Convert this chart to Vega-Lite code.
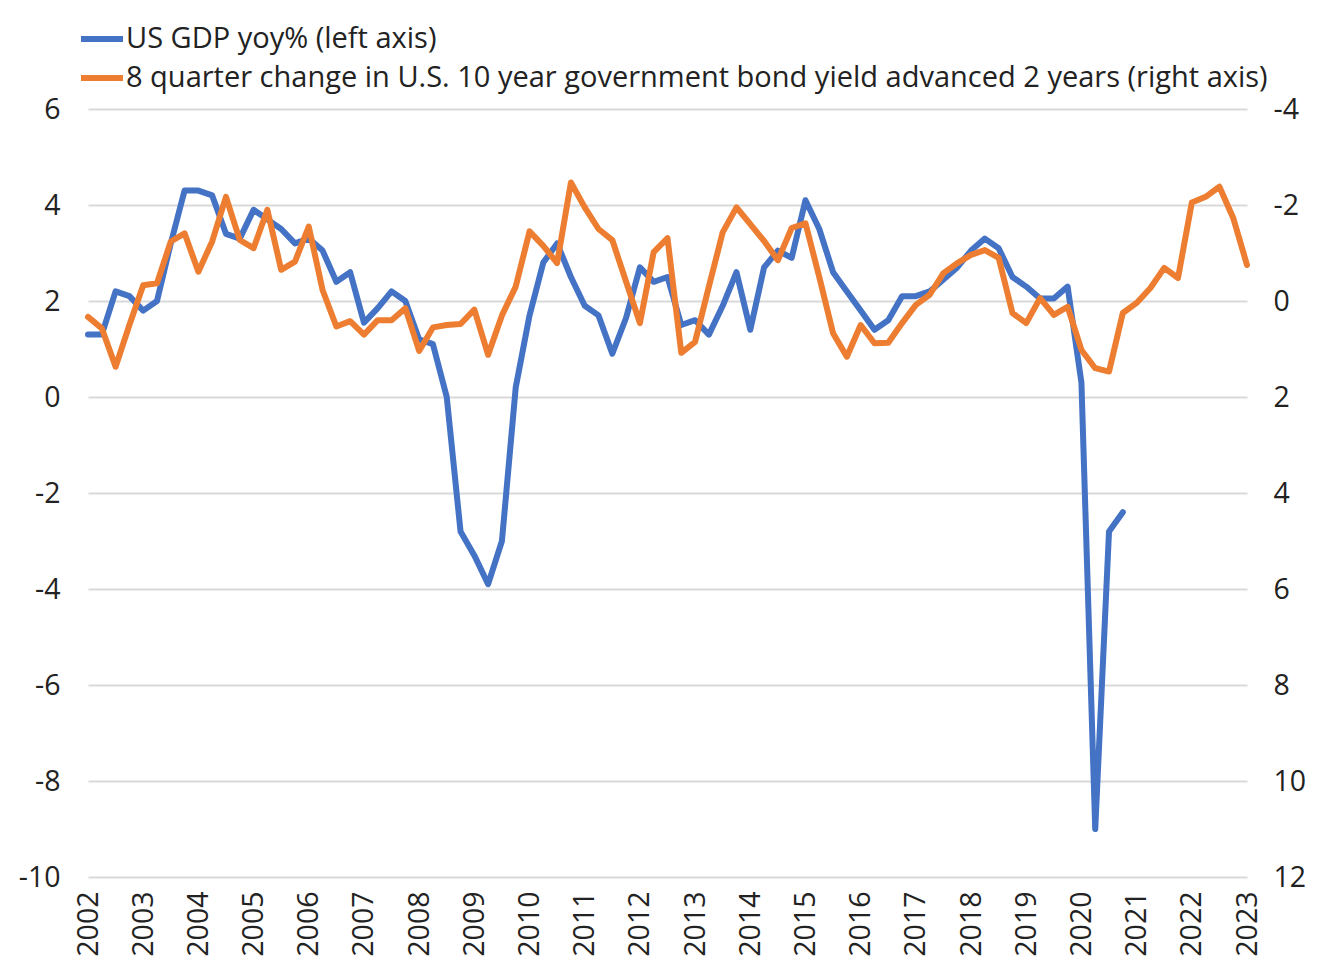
{
  "$schema": "https://vega.github.io/schema/vega-lite/v6.json",
  "width": 1159,
  "height": 768,
  "autosize": {"type": "none"},
  "padding": {"left": 88, "top": 109, "right": 93, "bottom": 101},
  "background": "white",
  "config": {
    "font": "Open Sans",
    "view": {"stroke": null},
    "axis": {"labelFont": "Open Sans", "labelColor": "#222222", "labelFontSize": 28.5, "title": null}
  },
  "datasets": {
    "gdp": [
      {"t": 2002.00, "value": 1.3}, {"t": 2002.25, "value": 1.3}, {"t": 2002.50, "value": 2.2}, {"t": 2002.75, "value": 2.1},
      {"t": 2003.00, "value": 1.8}, {"t": 2003.25, "value": 2.0}, {"t": 2003.50, "value": 3.2}, {"t": 2003.75, "value": 4.3},
      {"t": 2004.00, "value": 4.3}, {"t": 2004.25, "value": 4.2}, {"t": 2004.50, "value": 3.4}, {"t": 2004.75, "value": 3.3},
      {"t": 2005.00, "value": 3.9}, {"t": 2005.25, "value": 3.7}, {"t": 2005.50, "value": 3.5}, {"t": 2005.75, "value": 3.2},
      {"t": 2006.00, "value": 3.3}, {"t": 2006.25, "value": 3.05}, {"t": 2006.50, "value": 2.4}, {"t": 2006.75, "value": 2.6},
      {"t": 2007.00, "value": 1.55}, {"t": 2007.25, "value": 1.85}, {"t": 2007.50, "value": 2.2}, {"t": 2007.75, "value": 2.0},
      {"t": 2008.00, "value": 1.2}, {"t": 2008.25, "value": 1.1}, {"t": 2008.50, "value": 0.0}, {"t": 2008.75, "value": -2.8},
      {"t": 2009.00, "value": -3.3}, {"t": 2009.25, "value": -3.9}, {"t": 2009.50, "value": -3.0}, {"t": 2009.75, "value": 0.2},
      {"t": 2010.00, "value": 1.7}, {"t": 2010.25, "value": 2.8}, {"t": 2010.50, "value": 3.2}, {"t": 2010.75, "value": 2.5},
      {"t": 2011.00, "value": 1.9}, {"t": 2011.25, "value": 1.7}, {"t": 2011.50, "value": 0.9}, {"t": 2011.75, "value": 1.65},
      {"t": 2012.00, "value": 2.7}, {"t": 2012.25, "value": 2.4}, {"t": 2012.50, "value": 2.5}, {"t": 2012.75, "value": 1.5},
      {"t": 2013.00, "value": 1.6}, {"t": 2013.25, "value": 1.3}, {"t": 2013.50, "value": 1.9}, {"t": 2013.75, "value": 2.6},
      {"t": 2014.00, "value": 1.4}, {"t": 2014.25, "value": 2.7}, {"t": 2014.50, "value": 3.05}, {"t": 2014.75, "value": 2.9},
      {"t": 2015.00, "value": 4.1}, {"t": 2015.25, "value": 3.5}, {"t": 2015.50, "value": 2.6}, {"t": 2015.75, "value": 2.2},
      {"t": 2016.00, "value": 1.8}, {"t": 2016.25, "value": 1.4}, {"t": 2016.50, "value": 1.6}, {"t": 2016.75, "value": 2.1},
      {"t": 2017.00, "value": 2.1}, {"t": 2017.25, "value": 2.2}, {"t": 2017.50, "value": 2.45}, {"t": 2017.75, "value": 2.7},
      {"t": 2018.00, "value": 3.05}, {"t": 2018.25, "value": 3.3}, {"t": 2018.50, "value": 3.1}, {"t": 2018.75, "value": 2.5},
      {"t": 2019.00, "value": 2.3}, {"t": 2019.25, "value": 2.05}, {"t": 2019.50, "value": 2.05}, {"t": 2019.75, "value": 2.3},
      {"t": 2020.00, "value": 0.3}, {"t": 2020.25, "value": -9.0}, {"t": 2020.50, "value": -2.8}, {"t": 2020.75, "value": -2.4}
    ],
    "bond": [
      {"t": 2002.00, "value": 0.33}, {"t": 2002.25, "value": 0.57}, {"t": 2002.50, "value": 1.37}, {"t": 2002.75, "value": 0.5},
      {"t": 2003.00, "value": -0.33}, {"t": 2003.25, "value": -0.37}, {"t": 2003.50, "value": -1.24}, {"t": 2003.75, "value": -1.41},
      {"t": 2004.00, "value": -0.61}, {"t": 2004.25, "value": -1.24}, {"t": 2004.50, "value": -2.17}, {"t": 2004.75, "value": -1.27},
      {"t": 2005.00, "value": -1.1}, {"t": 2005.25, "value": -1.9}, {"t": 2005.50, "value": -0.65}, {"t": 2005.75, "value": -0.82},
      {"t": 2006.00, "value": -1.55}, {"t": 2006.25, "value": -0.23}, {"t": 2006.50, "value": 0.53}, {"t": 2006.75, "value": 0.42},
      {"t": 2007.00, "value": 0.7}, {"t": 2007.25, "value": 0.4}, {"t": 2007.50, "value": 0.4}, {"t": 2007.75, "value": 0.15},
      {"t": 2008.00, "value": 1.04}, {"t": 2008.25, "value": 0.55}, {"t": 2008.50, "value": 0.5}, {"t": 2008.75, "value": 0.48},
      {"t": 2009.00, "value": 0.18}, {"t": 2009.25, "value": 1.12}, {"t": 2009.50, "value": 0.3}, {"t": 2009.75, "value": -0.3},
      {"t": 2010.00, "value": -1.45}, {"t": 2010.25, "value": -1.15}, {"t": 2010.50, "value": -0.79}, {"t": 2010.75, "value": -2.47},
      {"t": 2011.00, "value": -1.95}, {"t": 2011.25, "value": -1.5}, {"t": 2011.50, "value": -1.27}, {"t": 2011.75, "value": -0.4},
      {"t": 2012.00, "value": 0.46}, {"t": 2012.25, "value": -1.02}, {"t": 2012.50, "value": -1.31}, {"t": 2012.75, "value": 1.08},
      {"t": 2013.00, "value": 0.85}, {"t": 2013.25, "value": -0.3}, {"t": 2013.50, "value": -1.43}, {"t": 2013.75, "value": -1.95},
      {"t": 2014.00, "value": -1.6}, {"t": 2014.25, "value": -1.25}, {"t": 2014.50, "value": -0.85}, {"t": 2014.75, "value": -1.52},
      {"t": 2015.00, "value": -1.62}, {"t": 2015.25, "value": -0.5}, {"t": 2015.50, "value": 0.67}, {"t": 2015.75, "value": 1.16},
      {"t": 2016.00, "value": 0.5}, {"t": 2016.25, "value": 0.88}, {"t": 2016.50, "value": 0.87}, {"t": 2016.75, "value": 0.46},
      {"t": 2017.00, "value": 0.08}, {"t": 2017.25, "value": -0.13}, {"t": 2017.50, "value": -0.58}, {"t": 2017.75, "value": -0.79},
      {"t": 2018.00, "value": -0.96}, {"t": 2018.25, "value": -1.06}, {"t": 2018.50, "value": -0.9}, {"t": 2018.75, "value": 0.25},
      {"t": 2019.00, "value": 0.46}, {"t": 2019.25, "value": -0.06}, {"t": 2019.50, "value": 0.29}, {"t": 2019.75, "value": 0.12},
      {"t": 2020.00, "value": 1.02}, {"t": 2020.25, "value": 1.4}, {"t": 2020.50, "value": 1.47}, {"t": 2020.75, "value": 0.25},
      {"t": 2021.00, "value": 0.04}, {"t": 2021.25, "value": -0.27}, {"t": 2021.50, "value": -0.69}, {"t": 2021.75, "value": -0.48},
      {"t": 2022.00, "value": -2.05}, {"t": 2022.25, "value": -2.17}, {"t": 2022.50, "value": -2.38}, {"t": 2022.75, "value": -1.73},
      {"t": 2023.00, "value": -0.75}
    ]
  },
  "layer": [
    {
      "data": {"name": "gdp"},
      "mark": {"type": "line", "strokeWidth": 6, "strokeJoin": "round", "strokeCap": "round"},
      "encoding": {
        "x": {
          "field": "t", "type": "quantitative",
          "scale": {"domain": [2002, 2023], "nice": false, "zero": false},
          "axis": {
            "values": [2002,2003,2004,2005,2006,2007,2008,2009,2010,2011,2012,2013,2014,2015,2016,2017,2018,2019,2020,2021,2022,2023],
            "format": "d", "labelAngle": -90, "labelPadding": 14, "grid": false, "domain": false, "ticks": false,
            "labelFontSize": 28.5, "labelOverlap": false, "labelFlush": false
          }
        },
        "y": {
          "field": "value", "type": "quantitative",
          "scale": {"domain": [-10, 6], "nice": false, "zero": false},
          "axis": {
            "orient": "left", "values": [-10,-8,-6,-4,-2,0,2,4,6], "grid": true, "gridColor": "#D9D9D9", "gridWidth": 2,
            "domain": false, "ticks": false, "labelPadding": 28, "labelExpr": "toString(datum.value)"
          }
        },
        "color": {
          "datum": "US GDP yoy% (left axis)",
          "type": "nominal",
          "scale": {
            "domain": ["US GDP yoy% (left axis)", "8 quarter change in U.S. 10 year government bond yield advanced 2 years (right axis)"],
            "range": ["#4472C4", "#ED7D31"]
          },
          "legend": {
            "title": null, "orient": "none", "legendX": -10, "legendY": -94, "padding": 0,
            "symbolType": "stroke", "symbolSize": 1764, "symbolStrokeWidth": 6,
            "labelFontSize": 29, "labelFont": "Open Sans", "labelColor": "#222222", "labelLimit": 1300, "labelOffset": 0,
            "rowPadding": -2, "direction": "vertical"
          }
        }
      }
    },
    {
      "data": {"name": "bond"},
      "mark": {"type": "line", "strokeWidth": 6, "strokeJoin": "round", "strokeCap": "round"},
      "encoding": {
        "x": {"field": "t", "type": "quantitative"},
        "y": {
          "field": "value", "type": "quantitative",
          "scale": {"domain": [-4, 12], "reverse": true, "nice": false, "zero": false},
          "axis": {
            "orient": "right", "values": [-4,-2,0,2,4,6,8,10,12], "grid": false,
            "domain": false, "ticks": false, "labelPadding": 26, "labelExpr": "toString(datum.value)"
          }
        },
        "color": {"datum": "8 quarter change in U.S. 10 year government bond yield advanced 2 years (right axis)", "type": "nominal"}
      }
    }
  ],
  "resolve": {"scale": {"y": "independent"}}
}
